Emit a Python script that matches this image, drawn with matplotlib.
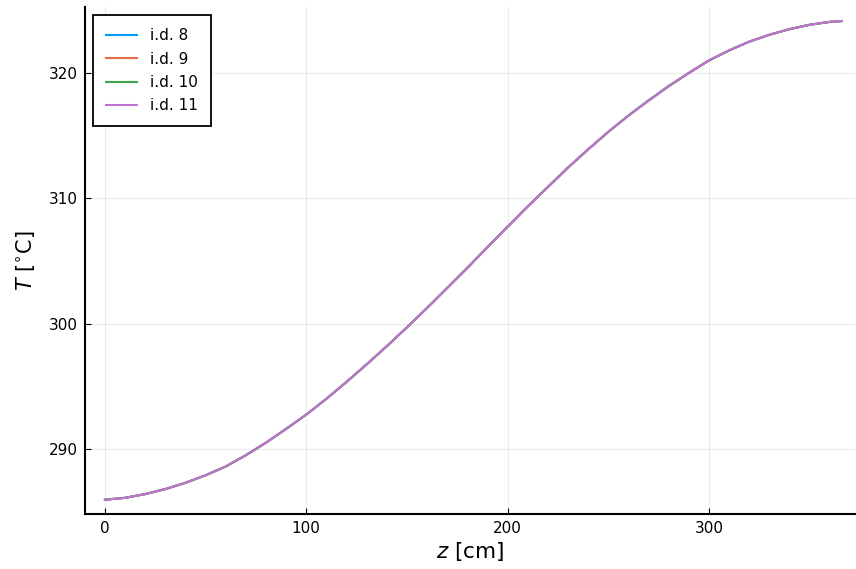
import matplotlib
matplotlib.use("Agg")
import matplotlib.pyplot as plt

z_cm = [0, 10, 20, 30, 40, 50, 60, 70, 80, 90, 100, 110, 120, 130, 140, 150, 160, 170, 180, 190,
        200, 210, 220, 230, 240, 250, 260, 270, 280, 290, 300, 310, 320, 330, 340, 350, 360, 366]
T_id8 = [285.95, 286.1, 286.4, 286.8, 287.3, 287.9, 288.6, 289.5, 290.5, 291.6,
         292.74, 294.0, 295.35, 296.75, 298.2, 299.7, 301.25, 302.85, 304.45, 306.1,
         307.73, 309.35, 310.9, 312.45, 313.9, 315.3, 316.6, 317.8, 318.95, 320.0,
         321.0, 321.8, 322.5, 323.05, 323.5, 323.85, 324.08, 324.15]
T_id9 = list(T_id8)
T_id10 = list(T_id8)
T_id11 = list(T_id8)

labels = ["i.d. 8", "i.d. 9", "i.d. 10", "i.d. 11"]
colors = ["#009AFA", "#E36F47", "#3EA44E", "#C371D2"]
series = [T_id8, T_id9, T_id10, T_id11]

fig = plt.figure(figsize=(8.56, 5.69), dpi=100)
ax = fig.add_axes([85/856, 55/569, 770/856, 507/569])

for s, c, l in zip(series, colors, labels):
    ax.plot(z_cm, s, color=c, lw=1.5, label=l)

ax.set_xlim(-9.9, 372.6)
ax.set_ylim(284.81, 325.27)
ax.set_xticks([0, 100, 200, 300])
ax.set_yticks([290, 300, 310, 320])
ax.grid(True, color="#000000", alpha=0.08, lw=0.8)
for sp in ["top", "right"]:
    ax.spines[sp].set_visible(False)
for sp in ["left", "bottom"]:
    ax.spines[sp].set_linewidth(1.5)
ax.tick_params(direction="in", length=4, width=0.8, labelsize=11, colors="black", pad=5)
ax.set_xlabel("$z$ [cm]", fontsize=15.5, labelpad=3)
ax.set_ylabel("$T$ [$^{\\circ}$C]", fontsize=15, labelpad=9)

leg = ax.legend(loc="upper left", bbox_to_anchor=(0.0104, 0.984), borderaxespad=0,
                fontsize=11, fancybox=False, framealpha=1, edgecolor="black",
                handlelength=2.0, handletextpad=0.9, labelspacing=0.55, borderpad=0.85)
leg.get_frame().set_linewidth(1.3)

fig.savefig("out.png", dpi=100)
